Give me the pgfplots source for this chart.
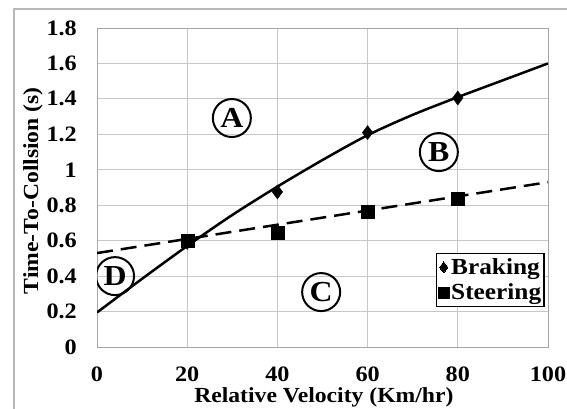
\documentclass[border=0pt]{standalone}
\usepackage{fontspec}
\setmainfont{Liberation Serif}[FakeStretch=1.1]
\usepackage{pgfplots}
\pgfplotsset{compat=1.18}
\begin{document}
\begin{tikzpicture}[x=1pt,y=1pt]
\useasboundingbox (0,0) rectangle (567,408);
\fill[white] (0,0) rectangle (567,408);
\draw[black!28, line width=1.2pt] (14,-10) rectangle (590,399);
\begin{axis}[
  at={(97pt,61pt)}, anchor=south west,
  width=451pt, height=319pt, scale only axis,
  xmin=0, xmax=100, ymin=0, ymax=1.8,
  xtick={0,20,40,60,80,100},
  ytick={0,0.2,0.4,0.6,0.8,1,1.2,1.4,1.6,1.8},
  major tick length=0pt,
  grid=major,
  grid style={black!22, line width=0.9pt},
  axis line style={black!35, line width=0.9pt},
  /pgf/number format/assume math mode=true,
  /pgf/number format/fixed,
  ticklabel style={font=\fontsize{22}{24}\selectfont\bfseries},
  yticklabel style={inner sep=0pt, anchor=east, xshift=-20pt},
  xticklabel style={inner sep=0pt, anchor=north, text height=14.5pt, yshift=-20pt},
  xlabel={Relative Velocity (Km/hr)},
  ylabel={Time-To-Collsion (s)},
  label style={font=\fontsize{21.5}{24}\selectfont\bfseries},
  xlabel style={at={(axis description cs:0.503,-0.1755)}, anchor=base, inner sep=0pt},
  ylabel style={at={(axis description cs:-0.142,0.49)}, anchor=center, inner sep=0pt},
  legend style={at={(0.993,0.125)}, anchor=south east, draw=black, line width=1.4pt,
    font=\fontsize{23}{26}\selectfont\bfseries, inner xsep=2pt, inner ysep=4pt,
    row sep=6pt, column sep=1pt, nodes={inner sep=1pt}},
  legend cell align=left,
  legend image code/.code={\draw[#1, mark size=5.5pt, line width=0pt] plot coordinates {(5pt,0pt)};},
]
% trendlines
\addplot[black, line width=2.5pt, smooth, forget plot] coordinates {
(0,0.195) (10,0.385) (20,0.57) (30,0.745) (40,0.905) (50,1.055)
(60,1.195) (70,1.31) (80,1.41) (90,1.505) (100,1.6)};
\addplot[black, line width=2.5pt, dash pattern=on 16pt off 8pt, forget plot] coordinates {
(0,0.53) (100,0.93)};
% data
\addplot[only marks, mark=diamond*, mark size=7pt, black] coordinates {
(20,0.59) (40,0.875) (60,1.21) (80,1.405)};
\addlegendentry{Braking}
\addplot[only marks, mark=square*, mark size=6.5pt, black] coordinates {
(20,0.598) (40,0.643) (60,0.762) (80,0.835)};
\addlegendentry{Steering}
% region labels
\node[draw, circle, line width=2pt, minimum size=38pt, inner sep=0pt,
  font=\fontsize{29}{30}\selectfont\bfseries] at (axis cs:29.9,1.292) {A};
\node[draw, circle, line width=2pt, minimum size=38pt, inner sep=0pt,
  font=\fontsize{29}{30}\selectfont\bfseries] at (axis cs:75.8,1.10) {B};
\node[draw, circle, line width=2pt, minimum size=38pt, inner sep=0pt,
  font=\fontsize{29}{30}\selectfont\bfseries] at (axis cs:49.7,0.31) {C};
\node[draw, circle, line width=2pt, minimum size=38pt, inner sep=0pt,
  font=\fontsize{29}{30}\selectfont\bfseries] at (axis cs:4.0,0.40) {D};
\end{axis}
\end{tikzpicture}
\end{document}
